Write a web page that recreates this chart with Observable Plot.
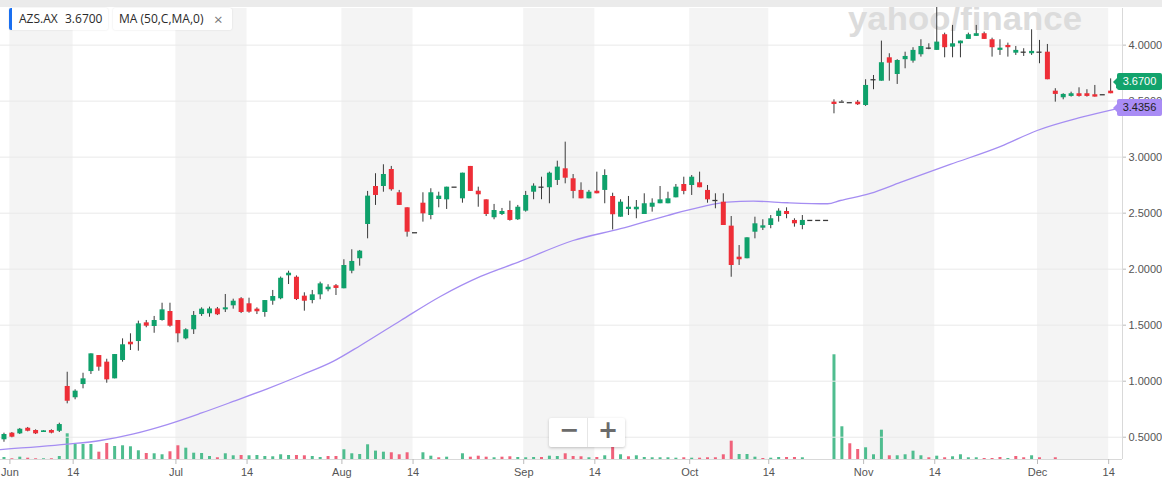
<!DOCTYPE html>
<html><head><meta charset="utf-8">
<script src="https://cdn.jsdelivr.net/npm/d3@7"></script>
<script src="https://cdn.jsdelivr.net/npm/@observablehq/plot@0.6"></script>
<style>
body{margin:0;background:#fff;}
#wrap{position:relative;width:1162px;height:480px;overflow:hidden;font-family:"Liberation Sans",Arial,sans-serif;}
#wrap > svg, #wrap > .layer{position:absolute;left:0;top:0;}
.strip{position:absolute;left:0;top:0;width:1162px;height:7px;background:#ebebeb;}
.lg{position:absolute;top:8px;height:22px;background:#fff;box-shadow:0 0 2px rgba(0,0,0,0.12);border-radius:2px;font-family:"Open Sans",sans-serif;font-size:12px;color:#2a2a2a;line-height:22px;white-space:nowrap;}
.tag{position:absolute;left:1117px;width:45px;height:17px;line-height:17px;font-size:11px;text-align:center;border-radius:2px;font-family:"Liberation Sans",Arial,sans-serif;}
.tag:before{content:"";position:absolute;left:-4px;top:4.5px;border-top:4px solid transparent;border-bottom:4px solid transparent;border-right:4px solid var(--c);}
.zoom{position:absolute;left:549px;top:418px;width:76px;height:29px;background:#fff;box-shadow:0 1px 3px rgba(0,0,0,0.22);border-radius:2px;}
.zoom span{position:absolute;top:-2px;font-size:24px;font-weight:700;color:#6b6b6b;font-family:"DejaVu Sans",sans-serif;}
</style></head><body><div id="wrap"></div>
<script>
// ---- data ----
const open  = [0.477,0.536,0.530,0.580,0.560,0.542,0.560,0.553,0.953,0.852,0.970,1.086,1.229,1.170,1.021,1.185,1.348,1.354,1.521,1.488,1.542,1.622,1.542,1.378,1.459,1.595,1.602,1.645,1.637,1.673,1.736,1.691,1.643,1.613,1.714,1.736,1.941,1.928,1.759,1.720,1.771,1.816,1.852,1.825,1.982,2.093,2.399,2.738,2.738,2.890,2.682,2.548,2.325,2.589,2.479,2.622,2.619,2.732,2.628,2.917,2.696,2.619,2.459,2.488,2.524,2.441,2.518,2.687,2.732,2.727,2.792,2.896,2.807,2.703,2.628,2.696,2.703,2.649,2.464,2.533,2.530,2.488,2.553,2.584,2.584,2.637,2.756,2.747,2.771,2.703,2.613,2.598,2.384,2.107,2.093,2.330,2.366,2.390,2.470,2.515,2.435,2.390,2.435,2.435,2.435,3.491,3.491,3.486,3.491,3.461,3.691,3.678,3.887,3.738,3.870,3.857,3.914,3.973,3.953,4.093,3.982,4.012,4.051,4.078,4.102,4.048,3.953,3.997,3.928,3.937,3.923,3.937,3.937,3.589,3.530,3.542,3.566,3.566,3.557,3.557,3.589,3.610];
const high  = [0.536,0.542,0.578,0.587,0.566,0.557,0.566,0.625,1.080,0.923,1.071,1.244,1.229,1.196,1.238,1.378,1.423,1.536,1.542,1.578,1.696,1.696,1.542,1.468,1.622,1.655,1.661,1.658,1.774,1.732,1.746,1.741,1.655,1.720,1.810,1.930,1.982,1.940,1.789,1.810,1.884,1.861,1.863,2.084,2.173,2.167,2.694,2.852,2.932,2.917,2.703,2.548,2.325,2.682,2.718,2.687,2.732,2.732,2.857,2.917,2.732,2.619,2.578,2.542,2.607,2.569,2.694,2.762,2.821,2.866,2.964,3.134,2.845,2.771,2.703,2.866,2.887,2.678,2.620,2.649,2.613,2.673,2.628,2.738,2.687,2.756,2.821,2.836,2.866,2.747,2.673,2.673,2.470,2.211,2.280,2.464,2.441,2.479,2.539,2.548,2.450,2.479,2.435,2.435,2.435,3.512,3.506,3.486,3.506,3.691,3.729,4.036,3.923,3.870,3.937,3.977,4.048,4.012,4.340,4.107,4.176,4.036,4.107,4.176,4.116,4.062,4.048,4.018,3.988,3.968,4.137,4.042,4.006,3.611,3.566,3.580,3.619,3.602,3.640,3.557,3.699,3.729];
const low   = [0.455,0.495,0.524,0.548,0.524,0.542,0.530,0.542,0.798,0.834,0.932,1.060,1.089,0.982,1.021,1.170,1.274,1.268,1.477,1.428,1.536,1.482,1.343,1.369,1.417,1.578,1.571,1.586,1.613,1.643,1.604,1.607,1.595,1.571,1.678,1.727,1.863,1.720,1.625,1.691,1.727,1.798,1.765,1.825,1.959,2.027,2.271,2.569,2.687,2.696,2.569,2.286,2.325,2.420,2.441,2.548,2.533,2.732,2.589,2.694,2.553,2.470,2.441,2.479,2.429,2.435,2.509,2.620,2.620,2.584,2.747,2.762,2.628,2.628,2.628,2.673,2.584,2.350,2.464,2.479,2.450,2.488,2.509,2.584,2.584,2.637,2.664,2.658,2.727,2.589,2.539,2.390,1.928,2.033,2.093,2.271,2.345,2.361,2.420,2.450,2.375,2.352,2.435,2.435,2.435,3.387,3.491,3.486,3.461,3.453,3.602,3.678,3.678,3.649,3.789,3.839,3.893,3.959,3.953,3.887,3.887,3.887,4.051,4.078,4.051,3.893,3.908,3.893,3.908,3.899,3.908,3.834,3.691,3.491,3.512,3.536,3.536,3.536,3.536,3.557,3.566,3.610];
const close = [0.524,0.500,0.571,0.553,0.530,0.557,0.536,0.613,0.821,0.911,1.021,1.244,1.125,1.012,1.238,1.325,1.325,1.512,1.491,1.542,1.637,1.491,1.423,1.459,1.587,1.643,1.645,1.593,1.655,1.714,1.613,1.616,1.620,1.720,1.756,1.919,1.964,1.729,1.714,1.771,1.869,1.839,1.828,2.033,2.069,2.161,2.652,2.658,2.845,2.709,2.569,2.330,2.325,2.494,2.682,2.652,2.732,2.732,2.857,2.694,2.664,2.488,2.524,2.515,2.435,2.553,2.658,2.741,2.732,2.857,2.911,2.812,2.694,2.628,2.687,2.673,2.836,2.486,2.598,2.553,2.553,2.584,2.589,2.619,2.628,2.732,2.694,2.821,2.727,2.619,2.613,2.390,2.033,2.084,2.280,2.405,2.387,2.450,2.518,2.488,2.405,2.435,2.435,2.435,2.435,3.470,3.491,3.486,3.468,3.640,3.691,3.843,3.839,3.863,3.899,3.953,3.988,3.973,4.027,3.977,4.012,4.036,4.093,4.102,4.051,3.977,3.973,3.977,3.953,3.937,3.944,3.937,3.691,3.560,3.560,3.566,3.542,3.542,3.536,3.557,3.566,3.670];
// volume, millions of shares (relative)
const volume = [0.5,0.18,0.58,0.33,0.18,0.18,0.18,0.75,6.43,3.75,3.75,3.75,1.83,4.0,3.25,3.43,3.18,2.18,1.5,1.43,1.18,1.93,3.43,2.83,1.58,1.5,0.75,0.43,1.43,0.93,1.0,0.93,1.0,0.75,0.68,1.18,1.0,1.0,0.93,0.75,0.5,0.75,0.75,2.43,1.43,1.25,3.68,2.1,1.83,1.68,1.18,1.68,0,1.68,0.83,0.43,0.58,0,1.43,0.58,0.83,0.58,0.43,0.58,0.68,0.5,0.43,0.5,0.5,0.83,0.75,1.43,0.75,0.68,0.43,0.5,0.93,3.25,1.18,0.68,0.93,0.5,0.43,0.43,0.43,0.33,0.43,0.33,0.33,0.43,0.43,1.18,4.58,1.25,1.25,0.58,0.25,0.33,0.5,0.5,0.5,0.43,0,0,0,26.18,8.18,3.93,2.5,2.93,1.18,7.33,0.93,0.93,1.18,2.08,0.93,0.43,0.83,0.43,0.68,1.18,0.43,0.43,0.25,0.25,0.5,0.25,0.75,0.43,0.93,0.43,0,0.43,0,0,0,0,0,0,0,0];
// 50-day moving average, sampled along the drawn line (trading-day index, value)
const maDay = [-0.44,8,12.2,16.4,20.65,24.9,29,33.3,37.5,41.7,45.1,50.2,55.2,60.3,65.3,72,78,83.9,88.1,91.5,94.8,99.1,104.2,105.8,109.6,113.4,119.7,126.1,130.7,136.2,141];
const maVal = [0.390,0.4375,0.4705,0.530,0.613,0.714,0.819,0.932,1.051,1.179,1.319,1.542,1.756,1.935,2.069,2.256,2.361,2.479,2.554,2.598,2.607,2.593,2.584,2.613,2.676,2.774,2.935,3.096,3.238,3.354,3.4356];
// x-axis ticks: trading-day index of each labelled date
const tickDay   = [0,8,21,30,42,51,65,74,86,96,108,117,130,139];
const tickLabel = ["Jun","14","Jul","14","Aug","14","Sep","14","Oct","14","Nov","14","Dec","14"];
const yTicks = [0.5,1,1.5,2,2.5,3,3.5,4];
const lastPrice = 3.67, lastMA = 3.4356;

// ---- build ----
const W = 1162, H = 480;
const UP = "#0fa16b", DOWN = "#ee2e37", VUP = "#4fbd8f", VDOWN = "#f0627b", MA = "#a58df2";
const tickOff = 0.75;
const candles = open.map((o, i) => ({
  i, o, h: high[i], l: low[i], c: close[i], v: volume[i],
  up: i === 0 ? close[i] >= o : close[i] >= close[i - 1]
}));
const ticks = tickDay.map((d, k) => ({x: d + tickOff, label: tickLabel[k]}));
const labelOf = new Map(ticks.map(t => [t.x, t.label]));
const bands = d3.range(0, ticks.length, 2).map(k => ({x1: ticks[k].x, x2: ticks[k + 1].x}));
const ma = maDay.map((d, k) => ({i: d, v: maVal[k]}));

const frame = {width: W, height: H, marginLeft: 0, marginRight: 40, marginTop: 8, marginBottom: 21,
  x: {domain: [-0.44, 141.5], axis: null},
  style: {fontFamily: '"Liberation Sans", Arial, sans-serif', background: "transparent", overflow: "visible"}};

const plotA = Plot.plot({...frame,
  y: {domain: [0, 112.75], axis: null},
  marks: [
    Plot.rect(bands, {x1: "x1", x2: "x2", fill: "#f4f4f4"}),
    Plot.ruleX(candles.filter(d => d.v > 0), {x: "i", y1: 0, y2: "v", stroke: d => d.up ? VUP : VDOWN, strokeWidth: 3})
  ]
});

const plotB = Plot.plot({...frame,
  y: {domain: [0.301, 4.327], axis: null},
  marks: [
    Plot.ruleY(yTicks, {stroke: "#e9e9e9", strokeWidth: 1}),
    Plot.line(ma, {x: "i", y: "v", stroke: MA, strokeWidth: 1.3, curve: "monotone-x"}),
    Plot.ruleX(candles.filter(d => d.h > d.l), {x: "i", y1: "l", y2: "h", stroke: "#3a3a3a", strokeWidth: 1}),
    Plot.ruleX(candles.filter(d => d.o !== d.c), {x: "i", y1: "o", y2: "c", stroke: d => d.c > d.o ? UP : DOWN, strokeWidth: 5}),
    Plot.ruleY(candles.filter(d => d.o === d.c), {y: "c", x1: d => d.i - 0.32, x2: d => d.i + 0.32, stroke: "#3a3a3a", strokeWidth: 1.3}),
    Plot.ruleY([0.301], {stroke: "#d9d9d9"}),
    Plot.ruleX([141.5], {stroke: "#d9d9d9"}),
    Plot.axisY(yTicks, {anchor: "right", label: null, tickSize: 3, tickPadding: 3, fontSize: 11, stroke: "#bbb", fill: "#555", tickFormat: d => d.toFixed(4)}),
    Plot.axisX(ticks.map(t => t.x), {anchor: "bottom", label: null, tickSize: 5, tickPadding: 4, fontSize: 11, stroke: "#bbb", fill: "#555", tickFormat: d => labelOf.get(d)})
  ]
});

const wrap = document.getElementById("wrap");
wrap.appendChild(plotA);
const wm = document.createElementNS("http://www.w3.org/2000/svg", "svg");
wm.setAttribute("width", W); wm.setAttribute("height", H);
wm.innerHTML = '<text x="848" y="30" textLength="234" lengthAdjust="spacingAndGlyphs" font-family="Liberation Sans, Arial" font-weight="700" font-size="34" fill="#dcdcdc">yahoo/finance</text>';
wrap.appendChild(wm);
wrap.appendChild(plotB);

const y = plotB.scale("y");
const add = (html) => { const d = document.createElement("div"); d.innerHTML = html; while (d.firstChild) wrap.appendChild(d.firstChild); };
add('<div class="strip"></div>');
add('<div class="lg" style="left:9px;width:99px;"><span style="position:absolute;left:0;top:0;width:3px;height:22px;background:#1a6ff0;border-radius:2px 0 0 2px"></span><span style="position:absolute;left:10px">AZS.AX</span><span style="position:absolute;left:56px">' + lastPrice.toFixed(4) + '</span></div>');
add('<div class="lg" style="left:113px;width:119px;"><span style="position:absolute;left:6px">MA (50,C,MA,0)</span><span style="position:absolute;left:101px;color:#777;font-size:15px">×</span></div>');
add('<div class="tag" style="--c:#12a36c;background:#12a36c;color:#fff;top:' + (y.apply(lastPrice) - 8.5) + 'px">' + lastPrice.toFixed(4) + '</div>');
add('<div class="tag" style="--c:#a98cf5;background:#a98cf5;color:#222;top:' + (y.apply(lastMA) - 8.5) + 'px">' + lastMA.toFixed(4) + '</div>');
add('<div class="zoom"><span style="left:10px">−</span><span style="left:49px">+</span><i style="position:absolute;left:38px;top:0;width:1px;height:29px;background:#e6e6e6"></i></div>');
</script></body></html>
